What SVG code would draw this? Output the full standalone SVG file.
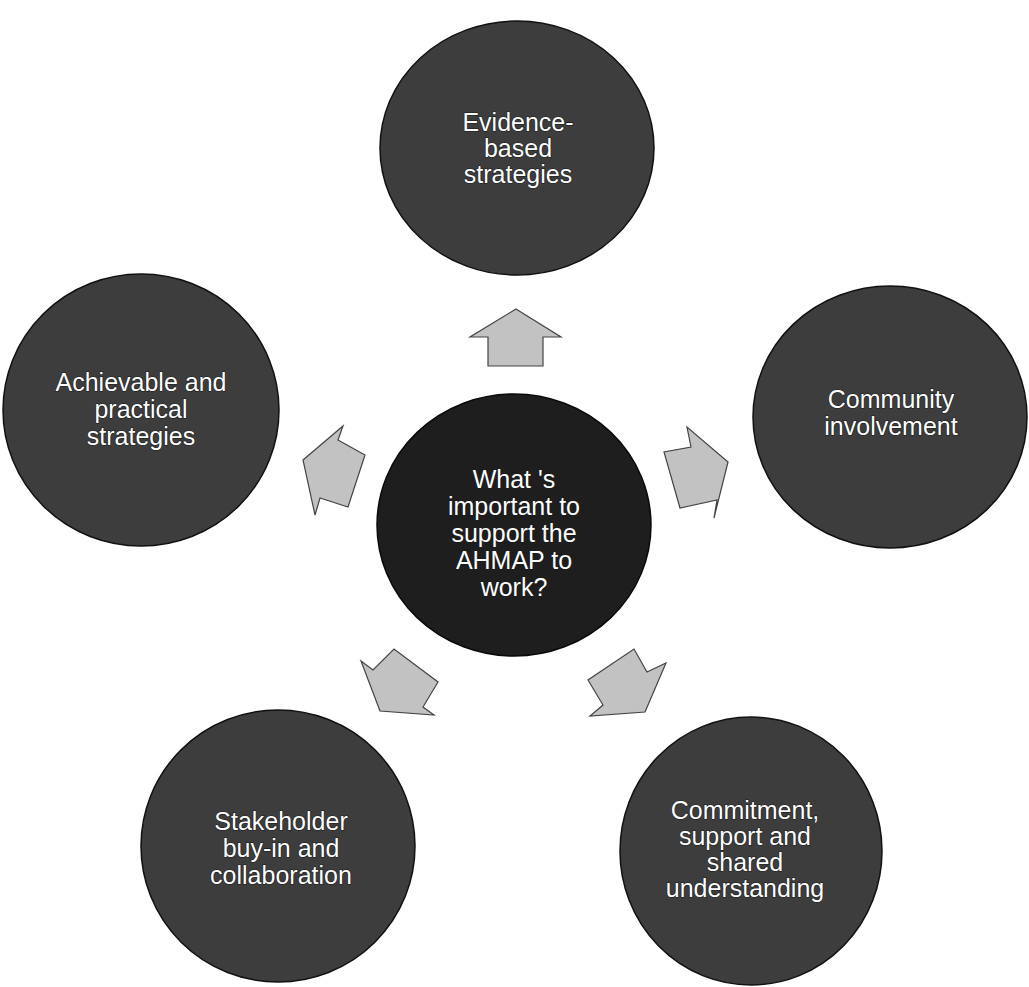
<svg xmlns="http://www.w3.org/2000/svg" width="1029" height="987" viewBox="0 0 1029 987">
<style>
.bg{fill:#ffffff}
.outer{fill:#3d3d3d;stroke:#111;stroke-width:1.5}
.center{fill:#1e1e1e;stroke:#0a0a0a;stroke-width:1.5}
.arrow{fill:#c2c2c2;stroke:#444;stroke-width:1.2;stroke-linejoin:miter}
.lbl{font-family:"Liberation Sans",Arial,sans-serif;font-size:25px;fill:#ffffff;stroke:#1a1a1a;stroke-width:1.2;paint-order:stroke;text-anchor:middle}
</style>
<rect class="bg" x="0" y="0" width="1029" height="987"/>
<g id="connectors">
<polygon class="arrow" points="516,309 561,337 543,337 543,366 488,366 488,337 470,337"/>
<polygon class="arrow" points="303,460 343,426 338,440 365,455 348,507 320,498 315,515"/>
<polygon class="arrow" points="728,462 714,518 717,500 680,508 664,452 691,447 687,427"/>
<polygon class="arrow" points="380,711 361,661 373,670 394,649 438,682 423,707 434,715"/>
<polygon class="arrow" points="645,712 666,663 647,672 634,649 588,680 603,705 590,716"/>
</g>
<g id="node-top">
<ellipse class="outer" cx="517" cy="148" rx="137" ry="127"/>
<text class="lbl" x="518" y="131">Evidence-</text>
<text class="lbl" x="518" y="157">based</text>
<text class="lbl" x="518" y="183">strategies</text>
</g>
<g id="node-left">
<ellipse class="outer" cx="141" cy="410" rx="138" ry="136"/>
<text class="lbl" x="141" y="391">Achievable and</text>
<text class="lbl" x="141" y="418">practical</text>
<text class="lbl" x="141" y="445">strategies</text>
</g>
<g id="node-right">
<ellipse class="outer" cx="890" cy="417" rx="137" ry="131"/>
<text class="lbl" x="891" y="408">Community</text>
<text class="lbl" x="891" y="435">involvement</text>
</g>
<g id="node-bottom-left">
<ellipse class="outer" cx="278" cy="846" rx="137" ry="136"/>
<text class="lbl" x="281" y="830">Stakeholder</text>
<text class="lbl" x="281" y="857">buy-in and</text>
<text class="lbl" x="281" y="884">collaboration</text>
</g>
<g id="node-bottom-right">
<ellipse class="outer" cx="751" cy="851" rx="131" ry="134"/>
<text class="lbl" x="745" y="819">Commitment,</text>
<text class="lbl" x="745" y="845">support and</text>
<text class="lbl" x="745" y="871">shared</text>
<text class="lbl" x="745" y="897">understanding</text>
</g>
<g id="node-center">
<ellipse class="center" cx="514" cy="525" rx="137" ry="131"/>
<text class="lbl" x="514" y="488">What 's</text>
<text class="lbl" x="514" y="515">important to</text>
<text class="lbl" x="514" y="542">support the</text>
<text class="lbl" x="514" y="569">AHMAP to</text>
<text class="lbl" x="514" y="596">work?</text>
</g>
</svg>
